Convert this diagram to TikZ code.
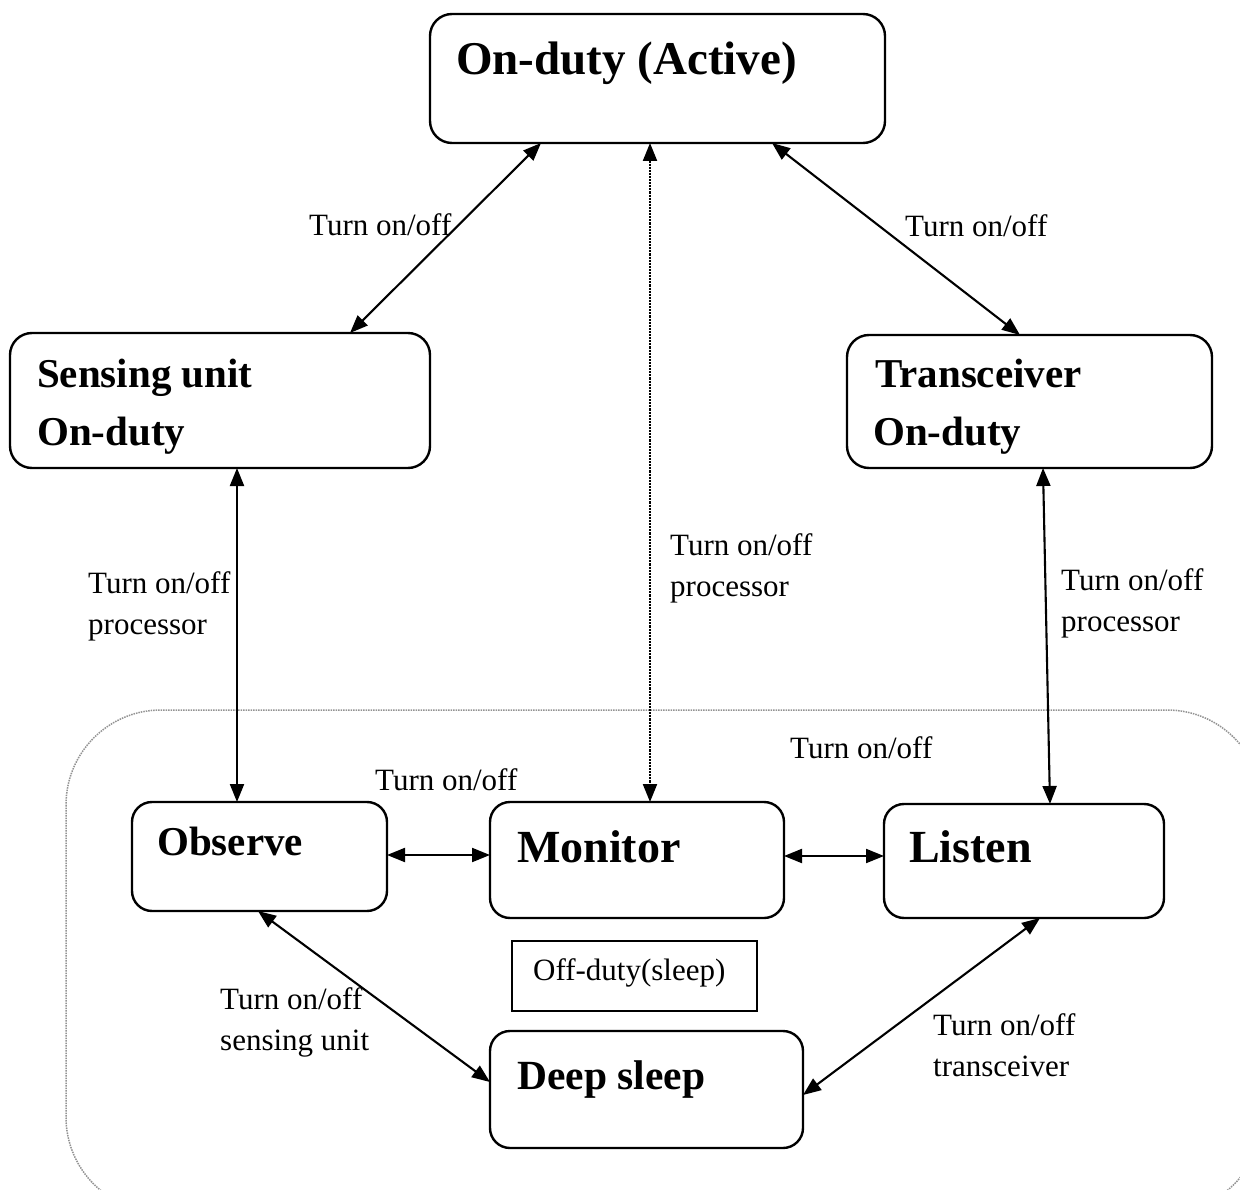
\documentclass[tikz,border=0pt]{standalone}
\usepackage{fontspec}
\setmainfont{Liberation Serif}
\usetikzlibrary{arrows.meta}
\begin{document}
\begin{tikzpicture}[x=1pt,y=-1pt,
  statebox/.style={draw,line width=2.4pt,rounded corners=22pt,inner sep=0pt,outer sep=0pt,anchor=north west},
  plainbox/.style={draw,line width=2.2pt,inner sep=0pt,outer sep=0pt,anchor=north west},
  bigtxt/.style={anchor=base west,inner sep=0pt,font=\bfseries\fontsize{41}{49}\selectfont},
  hugetxt/.style={anchor=base west,inner sep=0pt,font=\bfseries\fontsize{46}{55}\selectfont},
  lbl/.style={anchor=base west,inner sep=0pt,font=\fontsize{31}{37}\selectfont},
  conn/.style={line width=2.1pt,{Triangle[length=18pt,width=14pt]}-{Triangle[length=18pt,width=14pt]}},
  dotconn/.style={conn,densely dotted}
]
\useasboundingbox (0,0) rectangle (1240,1190);
\fill[white] (0,0) rectangle (1240,1190);
% region of off-duty states
\begin{scope}
\clip (0,0) rectangle (1240,1190);
\draw[gray!85,line width=1.5pt,densely dotted,rounded corners=95pt] (66,710) rectangle (1262,1212);
\end{scope}
% boxes
\node[statebox,minimum width=455pt,minimum height=129pt] (act) at (430,14) {};
\node[statebox,minimum width=420pt,minimum height=135pt] (sens) at (10,333) {};
\node[statebox,minimum width=365pt,minimum height=133pt] (trans) at (847,335) {};
\node[statebox,minimum width=255pt,minimum height=109pt,rounded corners=20pt] (obs) at (132,802) {};
\node[statebox,minimum width=294pt,minimum height=116pt,rounded corners=20pt] (mon) at (490,802) {};
\node[statebox,minimum width=280pt,minimum height=114pt,rounded corners=20pt] (lis) at (884,804) {};
\node[plainbox,minimum width=245pt,minimum height=70pt] (off) at (512,941) {};
\node[statebox,minimum width=313pt,minimum height=117pt,rounded corners=20pt] (deep) at (490,1031) {};
% box texts
\node[anchor=base west,inner sep=0pt,font=\bfseries\fontsize{47}{56}\selectfont] (tact) at (456,75) {On-duty (Active)};
\node[bigtxt] (tsens1) at (37,387) {Sensing unit};
\node[bigtxt] (tsens2) at (37,445) {On-duty};
\node[bigtxt] (ttrans1) at (875,388) {Transceiver};
\node[bigtxt] (ttrans2) at (873,445) {On-duty};
\node[bigtxt] (tobs) at (157,855) {Observe};
\node[hugetxt] (tmon) at (517,862) {Monitor};
\node[hugetxt] (tlis) at (909,862) {Listen};
\node[anchor=base west,inner sep=0pt,font=\bfseries\fontsize{41.5}{50}\selectfont] (tdeep) at (517,1089) {Deep sleep};
\node[lbl] (toff) at (533,980) {Off-duty(sleep)};
% connectors
\draw[conn] ([xshift=111pt]act.south west) -- ([xshift=340pt]sens.north west);
\draw[dotconn] ([xshift=220pt]act.south west) -- ([xshift=160pt]mon.north west);
\draw[conn] ([xshift=342pt]act.south west) -- ([xshift=173pt]trans.north west);
\draw[conn] ([xshift=227pt]sens.south west) -- ([xshift=105pt]obs.north west);
\draw[conn] ([xshift=196pt]trans.south west) -- ([xshift=166pt]lis.north west);
\draw[conn] ([yshift=-53pt]obs.north east) -- ([yshift=-53pt]mon.north west);
\draw[conn] ([yshift=-54pt]mon.north east) -- ([yshift=-52pt]lis.north west);
\draw[conn] ([xshift=126pt]obs.south west) -- ([yshift=-51pt]deep.north west);
\draw[conn] ([xshift=156pt]lis.south west) -- ([yshift=-64pt]deep.north east);
% connector labels
\node[lbl] (l1) at (309,236) {Turn on/off};
\node[lbl] (l3) at (905,237) {Turn on/off};
\node[lbl] (l2a) at (670,555) {Turn on/off};
\node[lbl] (l2b) at (670,596) {processor};
\node[lbl] (l4a) at (88,593) {Turn on/off};
\node[lbl] (l4b) at (88,634) {processor};
\node[lbl] (l5a) at (1061,590) {Turn on/off};
\node[lbl] (l5b) at (1061,631) {processor};
\node[lbl] (l6) at (375,790) {Turn on/off};
\node[lbl] (l7) at (790,758) {Turn on/off};
\node[lbl] (l8a) at (220,1009) {Turn on/off};
\node[lbl] (l8b) at (220,1050) {sensing unit};
\node[lbl] (l9a) at (933,1035) {Turn on/off};
\node[lbl] (l9b) at (933,1076) {transceiver};
\end{tikzpicture}
\end{document}
